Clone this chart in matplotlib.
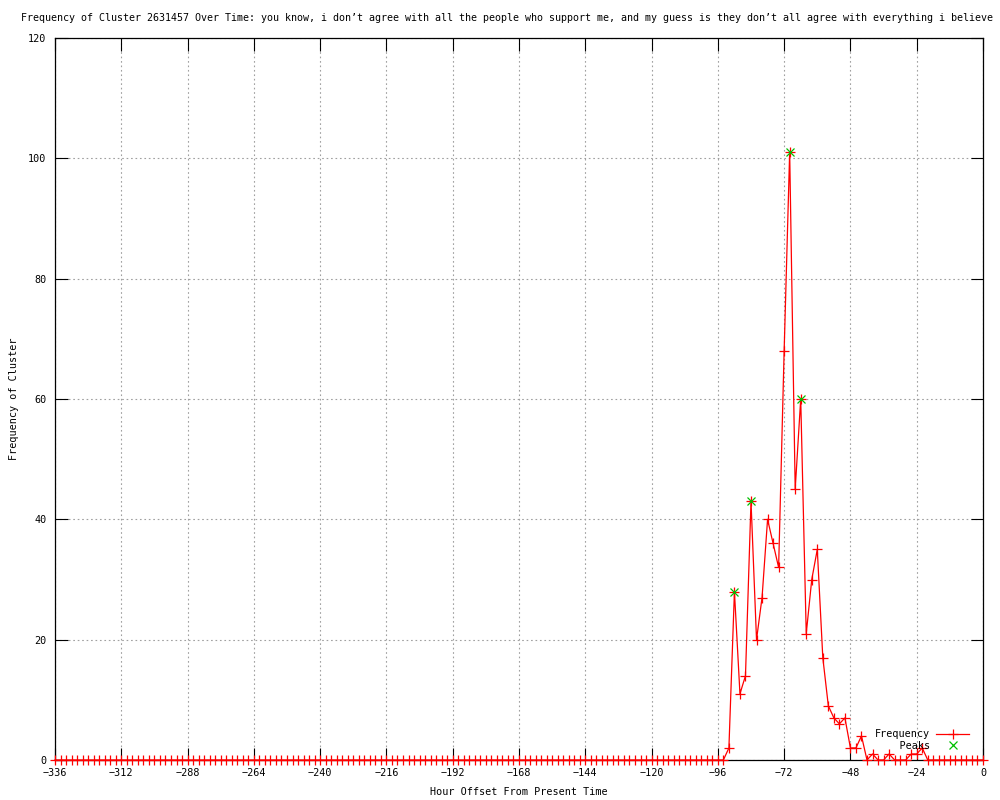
import matplotlib
matplotlib.use("Agg")
import matplotlib.pyplot as plt

title = ("Frequency of Cluster 2631457 Over Time: you know, i don\u2019t agree with all the people "
         "who support me, and my guess is they don\u2019t all agree with everything i believe")

hours = list(range(-336, 1, 2))
frequency = [
    0, 0, 0, 0, 0, 0, 0, 0, 0, 0, 0, 0, 0, 0, 0, 0, 0, 0, 0, 0,
    0, 0, 0, 0, 0, 0, 0, 0, 0, 0, 0, 0, 0, 0, 0, 0, 0, 0, 0, 0,
    0, 0, 0, 0, 0, 0, 0, 0, 0, 0, 0, 0, 0, 0, 0, 0, 0, 0, 0, 0,
    0, 0, 0, 0, 0, 0, 0, 0, 0, 0, 0, 0, 0, 0, 0, 0, 0, 0, 0, 0,
    0, 0, 0, 0, 0, 0, 0, 0, 0, 0, 0, 0, 0, 0, 0, 0, 0, 0, 0, 0,
    0, 0, 0, 0, 0, 0, 0, 0, 0, 0, 0, 0, 0, 0, 0, 0, 0, 0, 0, 0,
    0, 0,                                   # -96, -94
    2, 28, 11, 14, 43, 20, 27, 40, 36, 32,  # -92 .. -74
    68, 101, 45, 60, 21, 30, 35, 17, 9, 7,  # -72 .. -54
    6, 7, 2, 2, 4, 0, 1, 0, 0, 1,           # -52 .. -34
    0, 0, 0, 1, 1, 2, 0,                    # -32 .. -20
    0, 0, 0, 0, 0, 0, 0, 0, 0, 0,           # -18 .. 0
]

peak_hours = [-90, -84, -70, -66]
peak_values = [28, 43, 101, 60]

x_ticks = list(range(-336, 1, 24))
y_ticks = list(range(0, 121, 20))

FONT = "DejaVu Sans Mono"
FS = 7.3

plt.rcParams["font.family"] = FONT
plt.rcParams["font.size"] = FS

fig = plt.figure(figsize=(10, 8), dpi=100)
ax = fig.add_axes([0.055, 0.05, 0.928, 0.9025])

ax.plot(hours, frequency, color="#ff0000", lw=0.9, marker="+", ms=7.5,
        mew=0.9, label="Frequency", zorder=3, clip_on=False)
ax.plot(peak_hours, peak_values, linestyle="none", color="#00c000",
        marker="x", ms=6, mew=0.9, label="    Peaks", zorder=4)

ax.set_xlim(-336, 0)
ax.set_ylim(0, 120)
ax.set_xticks(x_ticks)
ax.set_yticks(y_ticks)
ax.set_xticklabels([str(t).replace("-", "\u2212") for t in x_ticks])
ax.tick_params(direction="in", length=9, width=0.8, top=True, right=True,
               labelsize=FS, pad=6, colors="black")
ax.grid(True, color="#a0a0a0", linestyle=(0, (1.5, 2.5)), linewidth=0.8)
ax.set_axisbelow(True)
for s in ax.spines.values():
    s.set_linewidth(0.9)

ax.set_xlabel("Hour Offset From Present Time", fontsize=FS, labelpad=6)
ax.set_ylabel("Frequency of Cluster", fontsize=FS, labelpad=8)
ax.yaxis.set_label_coords(-0.039, 0.5)

fig.text(0.5075, 0.9775, title, ha="center", va="center", fontsize=7.2)

leg = ax.legend(loc="lower right", frameon=False, markerfirst=False,
                numpoints=1, handlelength=3.3, handletextpad=0.6,
                labelspacing=0.15, borderaxespad=0.3,
                bbox_to_anchor=(0.993, 0.003), fontsize=FS)

fig.savefig("out.png", dpi=100)
